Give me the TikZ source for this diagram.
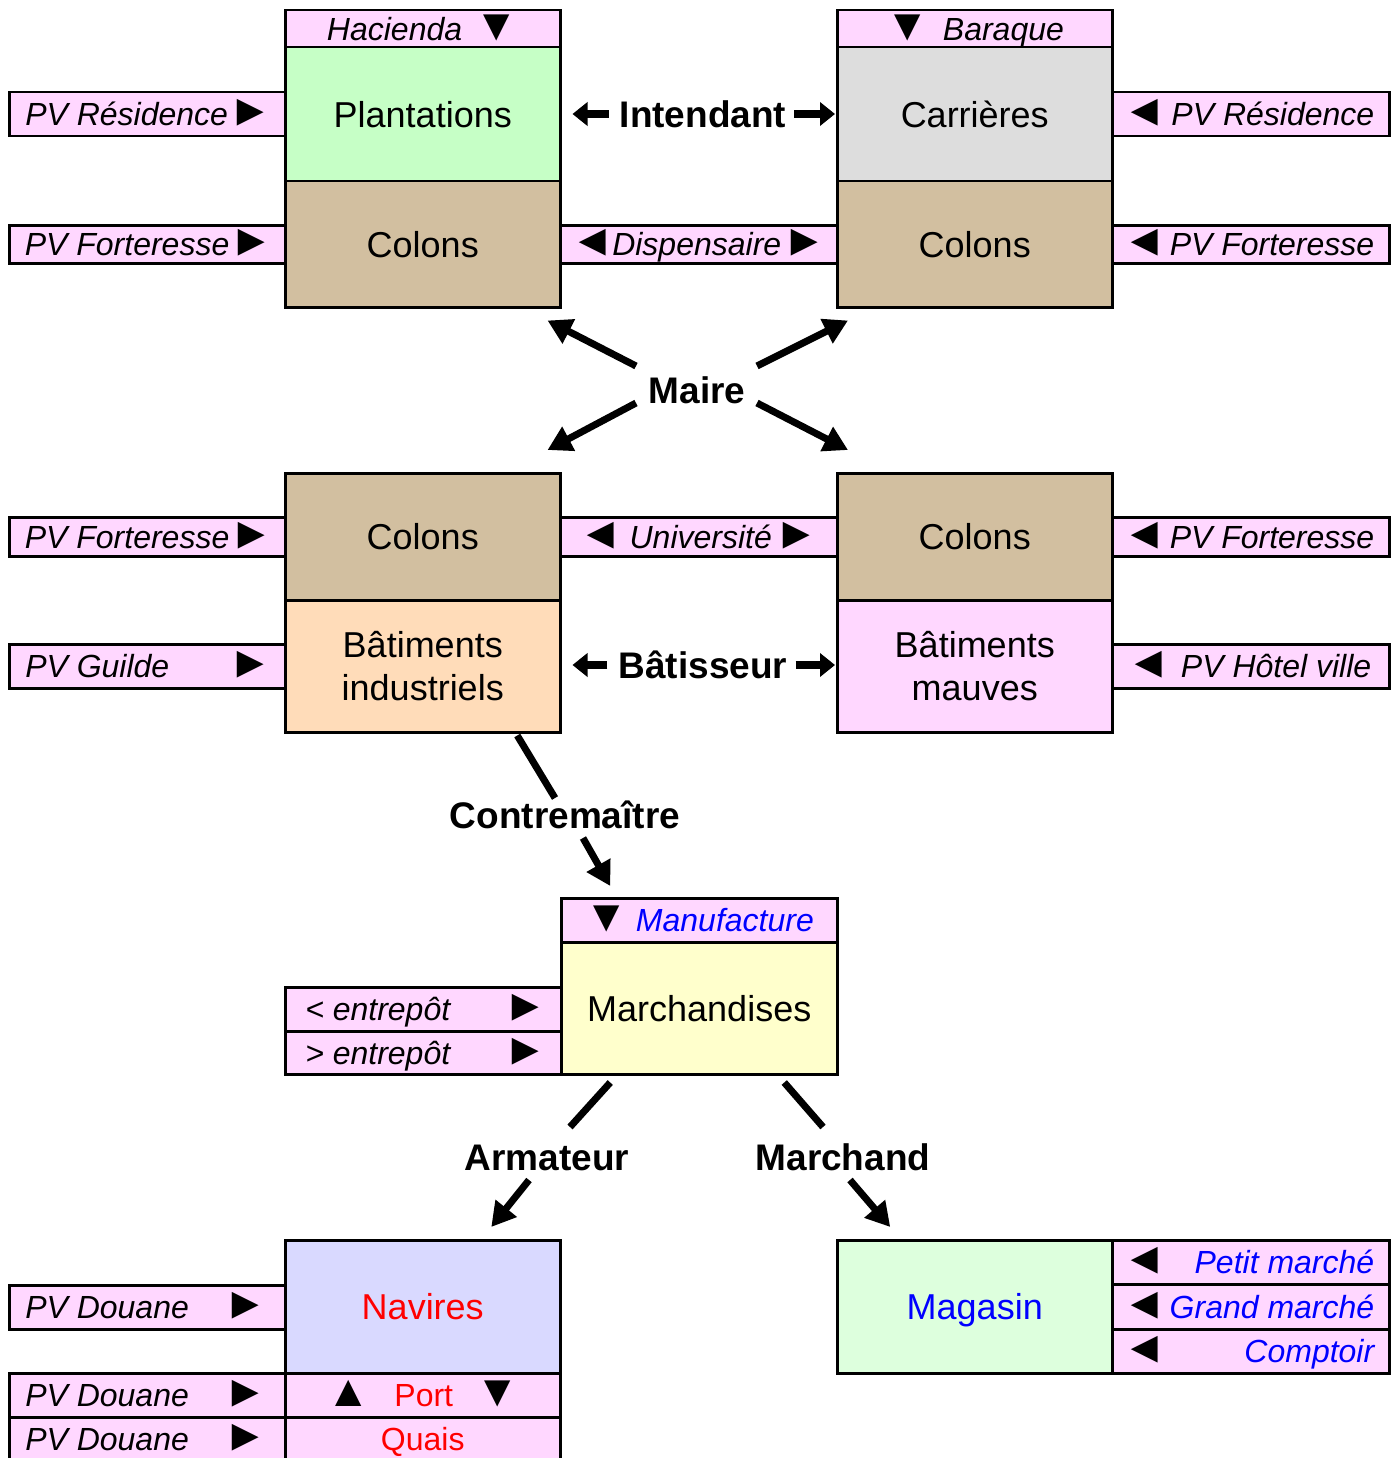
\documentclass[tikz,border=0pt]{standalone}
\usepackage{fontspec}
\setmainfont{Liberation Sans}
\usetikzlibrary{arrows.meta}
\definecolor{pinkbar}{HTML}{FFD7FF}
\definecolor{plantg}{HTML}{C6FFC6}
\definecolor{greyc}{HTML}{DDDDDD}
\definecolor{coltan}{HTML}{D2BFA0}
\definecolor{peach}{HTML}{FFDCB9}
\definecolor{yell}{HTML}{FFFFCC}
\definecolor{lav}{HTML}{D9D9FF}
\definecolor{mint}{HTML}{DDFFDD}
\definecolor{bluet}{HTML}{0000FF}
\definecolor{redt}{HTML}{FF0000}
\newcommand\rtri{{\upshape\color{black}\scalebox{1.4}{►}}}
\newcommand\ltri{{\upshape\color{black}\scalebox{1.4}{◄}}}
\newcommand\dtri{{\upshape\color{black}\scalebox{1.4}{▼}}}
\newcommand\utri{{\upshape\color{black}\scalebox{1.4}{▲}}}
% left bar: text at left, triangle at right
\newcommand\lbt[3][16pt]{\makebox[276pt]{\hspace*{#1}#2\hfill\rtri\hspace*{#3}}}
% right bar: triangle at left, text at right
\newcommand\rbt[3][15pt]{\makebox[277pt]{\hspace*{#2}\ltri\hfill #3\hspace*{#1}}}
\begin{document}
\begin{tikzpicture}[x=1pt,y=-1pt,
 cell/.style={draw, line width=2.5pt, inner sep=0pt, anchor=north west},
 big/.style={font=\fontsize{36}{43}\selectfont, align=center},
 one/.style={text height=26pt, text depth=0pt},
 barf/.style={cell, font=\fontsize{32}{38}\selectfont\itshape, text height=23pt, text depth=0pt, fill=pinkbar},
 lbl/.style={font=\fontsize{37}{44}\selectfont\bfseries, inner sep=0pt, text height=26.5pt, text depth=0pt},
 fat/.style={line width=7pt, line cap=butt},
 bigarrow/.style={fat, -{Triangle[length=24pt,width=26pt]}},
 smallarrow/.style={line width=8pt, -{Triangle[length=15pt,width=23pt]}},
]
\useasboundingbox (0,0) rectangle (1397,1458);
\clip (0,0) rectangle (1397,1458);

% ---------- top row ----------
\node[barf, minimum width=275pt, minimum height=37pt] (hac) at (284,9) {Hacienda\hspace{12pt}\dtri};
\node[cell, big, one, fill=plantg, minimum width=275pt, minimum height=134pt] (plant) at (284,46) {Plantations};
\node[cell, big, one, fill=coltan, minimum width=275pt, minimum height=126pt] (colTL) at (284,180) {Colons};

\node[barf, minimum width=275pt, minimum height=37pt] (bar) at (836,9) {\dtri\hspace{13pt}Baraque};
\node[cell, big, one, fill=greyc, minimum width=275pt, minimum height=134pt] (carr) at (836,46) {Carrières};
\node[cell, big, one, fill=coltan, minimum width=275pt, minimum height=126pt] (colTR) at (836,180) {Colons};

\node[barf, minimum height=44pt] (pvResL) at (8,91) {\lbt{PV Résidence}{12pt}};
\node[barf, minimum height=38pt] (pvForL) at (8,224) {\lbt{PV Forteresse}{12pt}};
\node[barf, minimum width=277pt, minimum height=38pt] (disp) at (559,224) {\ltri\hspace{-3pt}Dispensaire\hspace{1pt}\rtri};
\node[barf, minimum height=44pt] (pvResR) at (1111,91) {\rbt{10pt}{PV Résidence}};
\node[barf, minimum height=38pt] (pvForR) at (1111,224) {\rbt{10pt}{PV Forteresse}};

\node[lbl] (intd) at (703,114) {Intendant};
\draw[smallarrow] ([xshift=-11pt]intd.west) -- ([xshift=11pt]intd.west -| plant.east);
\draw[smallarrow] ([xshift=8pt]intd.east) -- ([xshift=-1pt]intd.east -| carr.west);

% ---------- Maire ----------
\node[lbl] (maire) at (697,390) {Maire};

% ---------- middle row ----------
\node[cell, big, one, fill=coltan, minimum width=275pt, minimum height=127pt] (colML) at (284,472) {Colons};
\node[cell, big, fill=peach, minimum width=275pt, minimum height=132pt] (batI) at (284,599) {Bâtiments\\industriels};
\node[cell, big, one, fill=coltan, minimum width=275pt, minimum height=127pt] (colMR) at (836,472) {Colons};
\node[cell, big, fill=pinkbar, minimum width=275pt, minimum height=132pt] (batM) at (836,599) {Bâtiments\\mauves};

\node[barf, minimum height=39pt] (pvForML) at (8,516) {\lbt{PV Forteresse}{12pt}};
\node[barf, minimum height=44pt] (pvGuilde) at (8,643) {\lbt{PV Guilde}{12pt}};
\node[barf, minimum width=277pt, minimum height=39pt] (univ) at (559,516) {\ltri\hspace{7pt}Université\hspace{3pt}\rtri};
\node[barf, minimum height=39pt] (pvForMR) at (1111,516) {\rbt{10pt}{PV Forteresse}};
\node[barf, minimum height=44pt] (pvHotel) at (1111,643) {\rbt[18pt]{14pt}{PV Hôtel ville}};

\draw[bigarrow] ([shift={(-61,-24)}]maire.center) -- ([shift={(-14,12)}]colTL.south east);
\draw[bigarrow] ([shift={(60,-24)}]maire.center) -- ([shift={(12,12)}]colTR.south west);
\draw[bigarrow] ([shift={(-61,13)}]maire.center) -- ([shift={(-14,-22)}]colML.north east);
\draw[bigarrow] ([shift={(60,13)}]maire.center) -- ([shift={(12,-22)}]colMR.north west);

\node[lbl] (batis) at (703,665) {Bâtisseur};
\draw[smallarrow] ([xshift=-11pt]batis.west) -- ([xshift=11pt]batis.west -| batI.east);
\draw[smallarrow] ([xshift=8pt]batis.east) -- ([xshift=-1pt]batis.east -| batM.west);

% ---------- manufacture ----------
\node[barf, minimum width=276pt, minimum height=44pt] (manuf) at (560,897) {\dtri\hspace{7pt}{\color{bluet}Manufacture}};
\node[cell, big, one, fill=yell, minimum width=276pt, minimum height=132pt] (march) at (560,941) {Marchandises};
\node[barf, minimum height=44pt] (ent1) at (284,986) {\lbt[20pt]{< entrepôt}{13pt}};
\node[barf, minimum height=43pt] (ent2) at (284,1030) {\lbt[20pt]{> entrepôt}{13pt}};

\node[lbl] (contre) at (565,815) {Contremaître};
\draw[fat] ([shift={(94.5,2)}]batI.south) -- ([shift={(-10,-17)}]contre.center);
\draw[bigarrow] ([shift={(18,23)}]contre.center) -- ([shift={(-89,-11)}]manuf.north);

% ---------- bottom ----------
\node[cell, big, one, fill=lav, minimum width=275pt, minimum height=133pt] (nav) at (284,1239) {\color{redt}Navires};
\node[barf, minimum width=275pt, minimum height=44pt] (port) at (284,1372) {\upshape\utri\hspace{24pt}{\color{redt}Port}\hspace{22pt}\dtri};
\node[barf, minimum width=275pt, minimum height=44pt] (quais) at (284,1416) {\upshape\color{redt}Quais};
\node[barf, minimum height=44pt] (pvD1) at (8,1284) {\lbt{PV Douane}{17pt}};
\node[barf, minimum height=44pt] (pvD2) at (8,1372) {\lbt{PV Douane}{17pt}};
\node[barf, minimum height=44pt] (pvD3) at (8,1416) {\lbt{PV Douane}{17pt}};

\node[cell, big, one, fill=mint, minimum width=275pt, minimum height=133pt] (mag) at (836,1239) {\color{bluet}Magasin};
\node[barf, minimum height=44pt] (petit) at (1111,1239) {\rbt{10pt}{\color{bluet}Petit marché}};
\node[barf, minimum height=45pt] (grand) at (1111,1283) {\rbt{10pt}{\color{bluet}Grand marché}};
\node[barf, minimum height=44pt] (compt) at (1111,1328) {\rbt{10pt}{\color{bluet}Comptoir}};

\node[lbl] (armat) at (547,1157) {Armateur};
\draw[fat] ([shift={(-89,7)}]march.south) -- ([shift={(23,-30)}]armat.center);
\draw[bigarrow] ([shift={(-18,23)}]armat.center) -- ([shift={(68.5,-12)}]nav.north);

\node[lbl] (marchd) at (843,1157) {Marchand};
\draw[fat] ([shift={(85,7)}]march.south) -- ([shift={(-20,-30)}]marchd.center);
\draw[bigarrow] ([shift={(7,23)}]marchd.center) -- ([shift={(-84.5,-12)}]mag.north);
\end{tikzpicture}
\end{document}
